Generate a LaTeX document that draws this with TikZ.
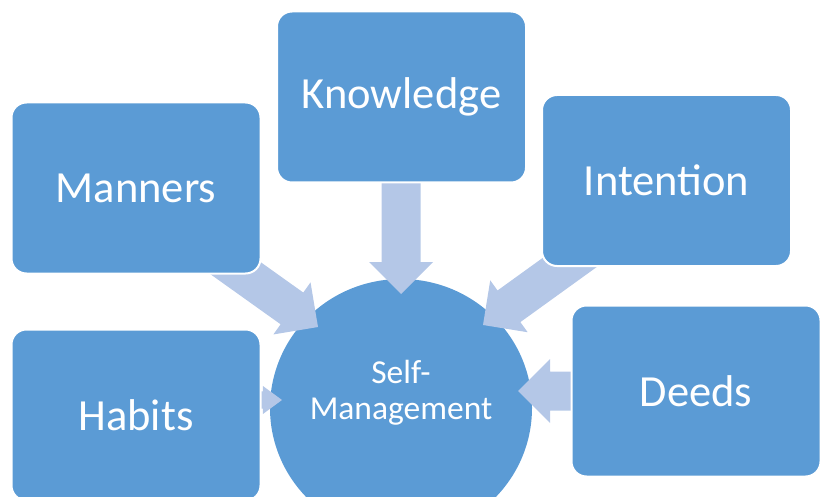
\documentclass[tikz,border=0pt]{standalone}
\usepackage{fontspec}
\setmainfont{Carlito}
\usetikzlibrary{shapes.geometric}
\definecolor{boxblue}{RGB}{91,155,213}
\definecolor{arrowblue}{RGB}{180,199,231}
\tikzset{
  block/.style={draw=white,line width=2pt,fill=boxblue,rounded corners=15pt,
    minimum width=249pt,minimum height=171pt,text=white,
    font=\fontsize{44.5}{50}\selectfont},
  hub/.style={ellipse,fill=boxblue,inner sep=0pt,minimum width=262pt,minimum height=258pt},
  hubtext/.style={text=white,align=center,font=\fontsize{33.5}{36}\selectfont},
  arrowfill/.style={fill=arrowblue}
}
% block arrow: [extra options]{tip}{angle}{length}
\newcommand{\blockarrow}[4][scale=1]{%
  \fill[arrowfill,shift={(#2)},rotate=#3,#1]
    (0,0) -- (-32,32) -- (-32,19.5) -- (-#4,19.5) -- (-#4,-19.5) -- (-32,-19.5) -- (-32,-32) -- cycle;}

\begin{document}
\begin{tikzpicture}[x=1pt,y=-1pt]
\useasboundingbox (0,0) rectangle (824,497);
\node[hub] (self) at (401,408) {};
\node[hubtext] (selflbl) at (401,393) {Self-\\Management};
% arrow tips
\coordinate (knowtip) at (401,294);
\coordinate (manntip) at (318,327);
\coordinate (intenttip) at (483,325);
\coordinate (habittip) at (282,400);
\coordinate (deedtip) at (518,391);
\blockarrow{knowtip}{-90}{115}
\blockarrow{manntip}{-35.5}{130}
\blockarrow{intenttip}{-144.2}{135}
\blockarrow[xscale=0.6,yscale=0.44]{habittip}{0}{60}
\blockarrow{deedtip}{180}{65}
% boxes
\node[block] (know) at (401.5,97) {Knowledge};
\node[block] (mann) at (136,188) {Manners};
\node[block] (intent) at (666.5,180.5) {Intention};
\node[block] (habit) at (136,415) {Habits};
\node[block] (deed) at (696,391) {Deeds};
\end{tikzpicture}
\end{document}
